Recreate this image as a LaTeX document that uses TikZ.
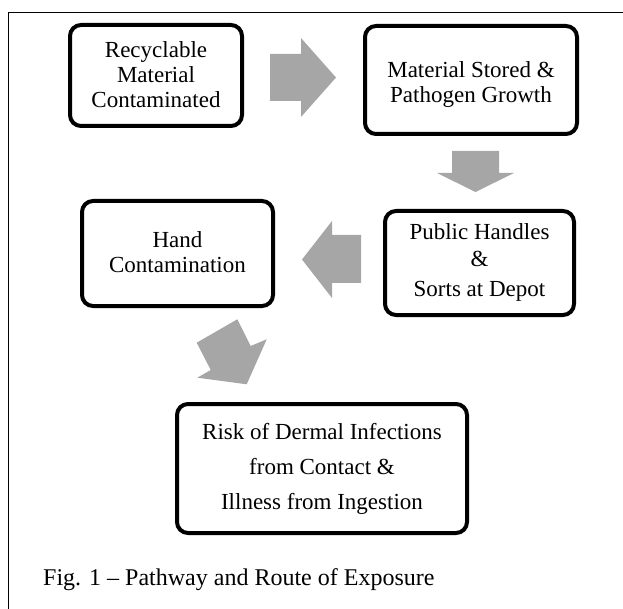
\documentclass[tikz,border=0pt]{standalone}
\usepackage{fontspec}
\setmainfont{Liberation Serif}
\definecolor{arrowgray}{RGB}{166,166,166}
\begin{document}
\begin{tikzpicture}[x=1pt,y=-1pt,
  box/.style={draw=black, line width=4pt, rounded corners=11pt, fill=white,
    align=center, inner sep=0pt},
  boxtext/.style={align=center, inner sep=0pt, font=\fontsize{23}{25}\selectfont},
  blockarrow/.style={fill=arrowgray, draw=none},
  frameline/.style={draw=black, line width=1pt}]
\useasboundingbox (0,0) rectangle (623,609);
\draw[frameline] (623,13) -- (8.5,13) -- (8.5,609);

% boxes
\node[box, minimum width=172pt, minimum height=101pt] (b1) at (156,75.5) {};
\node[boxtext] (t1) at (156,75) {Recyclable\\Material\\Contaminated};
\node[box, minimum width=212pt, minimum height=108pt] (b2) at (471,80) {};
\node[boxtext] (t2) at (471,85) {Material Stored \&\\Pathogen Growth};
\node[box, minimum width=189pt, minimum height=104pt] (b3) at (479.5,263) {};
\node[boxtext] (t3) at (479.5,262) {Public Handles\\[2pt]\&\\[5pt]Sorts at Depot};
\node[box, minimum width=191pt, minimum height=105pt] (b4) at (177.5,253.5) {};
\node[boxtext] (t4) at (177.5,252) {Hand\\Contamination};
\node[box, minimum width=290pt, minimum height=129pt] (b5) at (322,468.5) {};
\node[boxtext, font=\fontsize{23}{35}\selectfont] (t5) at (322,468.5) {Risk of Dermal Infections\\from Contact \&\\Illness from Ingestion};

% caption
\node[anchor=base west, inner sep=0pt, font=\fontsize{24}{28}\selectfont] (cap) at (43,585) {Fig. 1 -- Pathway and Route of Exposure};

% block arrows
\fill[blockarrow] (270,54) -- (301,54) -- (301,38) -- (336,77.5) -- (301,117) -- (301,101) -- (270,101) -- cycle;
\fill[blockarrow] (452,151) -- (499,151) -- (499,173) -- (514,173) -- (475.5,192) -- (437,173) -- (452,173) -- cycle;
\fill[blockarrow] (361,235) -- (332,235) -- (332,221) -- (302,259.5) -- (332,298) -- (332,283) -- (361,283) -- cycle;
\fill[blockarrow] (196.7,342.7) -- (237.3,319.3) -- (250.7,346) -- (266.7,339.3) -- (246.7,384.3) -- (197.3,377.7) -- (210.7,370) -- cycle;
\end{tikzpicture}
\end{document}
